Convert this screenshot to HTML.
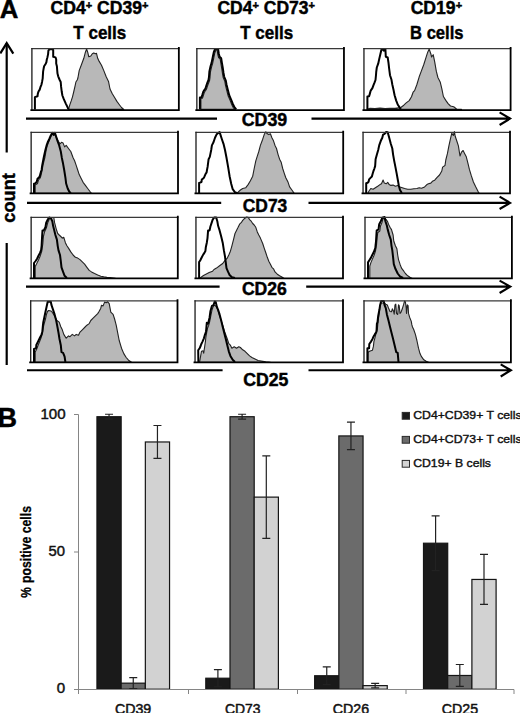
<!DOCTYPE html>
<html><head><meta charset="utf-8">
<style>
html,body{margin:0;padding:0;background:#fff;}
svg{display:block;}
text{font-family:"Liberation Sans",sans-serif;}
.b{font-weight:bold;stroke:#000;stroke-width:0.45px;}
</style></head>
<body>
<svg width="520" height="713" viewBox="0 0 520 713">
<!-- PANEL A -->
<text class="b" x="-0.2" y="18.2" font-size="26" textLength="18.6" lengthAdjust="spacingAndGlyphs">A</text>
<g class="b" text-anchor="middle" fill="#000">
<text x="99.5" y="13.8" font-size="17.5" textLength="98" lengthAdjust="spacingAndGlyphs">CD4<tspan font-size="11" dy="-5">+</tspan><tspan dy="5"> CD39</tspan><tspan font-size="11" dy="-5">+</tspan></text>
<text x="99.8" y="38.7" font-size="19" textLength="53" lengthAdjust="spacingAndGlyphs">T cells</text>
<text x="266.2" y="13.8" font-size="17.5" textLength="97.5" lengthAdjust="spacingAndGlyphs">CD4<tspan font-size="11" dy="-5">+</tspan><tspan dy="5"> CD73</tspan><tspan font-size="11" dy="-5">+</tspan></text>
<text x="266.7" y="38.7" font-size="19" textLength="53" lengthAdjust="spacingAndGlyphs">T cells</text>
<text x="436.4" y="13.8" font-size="17.5" textLength="51.5" lengthAdjust="spacingAndGlyphs">CD19<tspan font-size="11" dy="-5">+</tspan></text>
<text x="436.8" y="38.7" font-size="19" textLength="53.5" lengthAdjust="spacingAndGlyphs">B cells</text>
</g>
<!-- count axis -->
<g stroke="#000" stroke-width="2.2" fill="none">
<line x1="6.7" y1="43" x2="6.7" y2="152.5"/>
<line x1="6.7" y1="243" x2="6.7" y2="365"/>
<polyline points="0.3,53.4 6.7,43.1 13.3,53.6" stroke-linejoin="miter"/>
</g>
<text class="b" font-size="18.8" transform="translate(15.3,197.9) rotate(-90)" text-anchor="middle" textLength="49.5" lengthAdjust="spacingAndGlyphs">count</text>

<!-- row arrows -->
<g class="b" font-size="17.5" text-anchor="middle">
<text x="264.5" y="126" textLength="45.5" lengthAdjust="spacingAndGlyphs">CD39</text>
<text x="265" y="211.7" textLength="44.5" lengthAdjust="spacingAndGlyphs">CD73</text>
<text x="264.4" y="294.5" textLength="45" lengthAdjust="spacingAndGlyphs">CD26</text>
<text x="265.8" y="386.3" textLength="45.2" lengthAdjust="spacingAndGlyphs">CD25</text>
</g>

<!-- histogram boxes -->
<g fill="#b8b8b8" stroke="#222" stroke-width="1.1" stroke-linejoin="round">
<polygon points="68.5,109.4 68.5,109.4 69.8,104.9 71.2,100.9 72.5,96.8 73.8,91.5 75.2,85.4 75.9,82.0 77.2,80.0 77.9,78.0 79.2,70.6 81.5,64.5 83.8,58.3 85.4,52.2 86.6,49.0 87.7,52.2 88.8,56.8 90.8,56.0 92.3,53.7 93.8,52.9 95.4,53.7 96.5,53.4 97.7,58.3 99.2,61.4 101.5,65.2 103.8,70.6 106.2,76.8 108.5,81.4 110.0,89.0 112.3,93.7 114.6,97.5 116.9,101.4 119.2,104.5 121.5,107.5 123.8,109.4 123.8,109.4"/>
<polygon points="200.9,109.4 200.9,109.4 200.9,98.3 202.5,98.1 203.5,95.2 204.2,92.8 204.9,91.4 206.4,89.5 207.3,86.6 208.3,83.7 209.5,80.8 210.0,77.6 210.4,72.2 211.6,66.8 212.6,63.7 213.7,58.3 214.8,53.0 216.0,49.9 217.1,49.9 217.8,54.5 218.6,57.6 220.2,59.1 220.9,63.7 221.7,68.3 222.5,73.7 223.2,77.6 224.8,81.4 225.5,85.3 226.6,89.9 228.2,96.0 230.2,100.6 231.7,104.5 233.2,107.6 235.2,109.4 235.2,109.4"/>
<polygon points="367.0,109.4 367.0,109.2 370.0,108.3 375.0,108.6 380.0,108.0 385.0,108.5 390.0,108.2 395.0,108.4 400.8,107.5 403.8,105.2 406.2,102.9 409.2,100.6 411.5,96.8 413.1,92.2 414.6,90.6 416.9,84.5 419.2,76.8 421.5,70.6 423.8,64.5 426.2,56.8 427.7,52.2 429.2,49.1 430.8,53.7 431.6,57.0 433.2,54.7 434.7,61.8 436.3,71.2 437.9,77.5 440.3,82.3 441.8,88.6 443.4,96.5 445.8,100.4 448.1,103.6 450.5,106.0 453.7,106.7 456.8,109.1 461.5,109.2 461.5,109.4"/>
<polygon points="35.2,193.3 35.2,193.3 35.2,185.0 37.5,183.5 38.5,180.0 40.2,178.0 41.2,174.5 42.2,170.0 43.0,165.0 44.2,160.0 45.0,157.0 46.0,151.0 47.0,146.5 48.2,143.0 49.5,140.0 51.0,136.5 52.3,134.0 53.8,135.5 54.9,134.0 56.2,136.9 58.5,141.5 60.0,143.8 61.5,142.3 63.1,143.1 64.6,146.9 66.2,145.4 68.5,148.5 70.8,151.5 73.1,157.7 74.6,160.8 76.2,165.4 77.7,170.0 79.2,174.6 80.8,177.7 83.1,182.3 85.4,185.4 87.7,188.5 90.0,191.5 91.5,193.3 91.5,193.3"/>
<polygon points="235.0,193.3 235.0,193.2 237.3,192.8 240.4,190.0 242.7,188.5 245.8,187.7 248.1,184.6 250.4,180.8 252.7,176.2 254.2,168.5 255.8,160.8 257.3,156.2 258.8,151.5 260.4,145.4 262.7,139.2 264.2,134.6 265.8,131.8 267.3,133.8 268.8,134.6 270.4,133.8 271.9,137.7 273.5,140.8 275.0,145.4 276.5,148.5 278.1,154.6 279.6,159.2 281.2,162.3 282.7,168.5 284.2,173.1 285.8,177.7 288.1,182.3 289.6,186.9 291.9,190.0 294.2,193.2 294.2,193.3"/>
<polygon points="367.7,193.3 367.7,193.2 369.2,190.8 370.8,188.5 373.1,189.2 375.4,187.7 377.7,186.2 380.0,184.6 381.5,183.8 383.1,180.0 384.3,183.1 386.2,183.8 387.7,182.3 389.2,184.6 390.8,185.4 393.1,185.1 395.4,186.2 397.7,185.4 400.0,186.9 402.3,187.7 404.6,188.5 407.7,189.2 410.8,189.2 413.8,188.8 416.9,188.5 419.2,187.7 421.5,188.2 424.6,186.9 426.9,184.6 428.5,183.8 430.8,183.1 432.4,181.3 434.7,180.2 437.1,177.3 439.5,175.0 441.8,171.0 442.6,167.1 445.0,165.5 445.8,160.0 447.4,153.7 448.9,145.8 450.5,138.7 451.8,133.2 453.3,135.5 454.4,131.6 455.2,136.3 456.8,141.0 458.4,145.8 460.0,156.0 461.5,152.1 463.1,150.5 464.7,153.7 466.3,156.8 467.9,163.1 469.4,169.4 471.3,175.7 473.4,182.0 475.7,186.8 478.1,191.5 479.2,193.2 479.2,193.3"/>
<polygon points="35.2,278.4 35.2,278.4 35.2,266.5 36.5,264.0 38.5,260.0 40.2,256.0 41.8,251.0 42.8,244.0 43.5,236.0 44.5,232.0 46.3,228.0 47.8,222.5 49.3,219.0 51.5,217.5 53.8,217.5 54.6,222.7 56.2,228.8 57.7,233.5 59.2,235.0 60.8,236.5 62.3,238.1 63.8,237.3 65.4,242.7 66.9,245.8 68.5,248.1 70.8,251.9 73.1,255.0 75.4,257.3 77.7,258.1 80.0,259.6 82.3,261.9 84.6,264.2 86.9,267.3 89.2,270.4 91.5,271.9 94.6,273.5 97.7,275.0 100.8,276.2 103.8,276.8 106.9,277.3 110.0,277.6 115.4,278.4 115.4,278.4"/>
<polygon points="200.1,278.4 200.1,278.4 200.1,277.9 203.5,275.5 209.2,272.6 212.6,271.2 214.0,269.5 216.5,268.1 219.6,265.8 222.7,263.5 225.0,260.4 227.3,258.1 228.8,255.0 230.4,251.2 231.9,245.8 233.5,239.6 235.0,233.5 236.5,230.4 238.1,227.3 239.6,224.2 241.2,222.7 242.7,220.4 244.2,218.8 246.5,217.0 248.1,217.3 249.6,219.6 251.2,221.2 252.7,223.5 254.2,225.0 255.8,227.3 257.3,231.9 258.8,235.0 260.4,238.1 262.7,243.5 264.2,248.1 265.8,252.7 267.3,257.3 268.8,261.2 270.4,264.2 271.9,267.3 273.5,268.8 275.0,271.9 277.3,274.2 279.6,275.8 281.9,277.0 284.2,278.4 284.2,278.4"/>
<polygon points="369.8,278.4 369.8,278.4 369.8,266.0 371.0,262.4 372.4,259.1 374.0,255.5 375.5,251.0 376.5,245.0 377.2,237.0 377.8,232.5 379.8,231.0 380.5,226.0 381.8,223.0 383.1,218.5 384.6,218.0 386.2,219.6 387.7,221.9 388.5,224.2 390.0,227.3 391.5,229.6 393.1,235.0 393.8,241.2 395.4,245.8 396.9,248.8 397.7,255.0 398.5,259.6 400.0,264.2 401.5,268.1 403.8,271.2 405.4,273.5 407.7,275.8 410.0,277.3 412.3,278.4 412.3,278.4"/>
<polygon points="35.2,362.3 35.2,362.3 35.2,352.0 36.5,349.5 38.0,345.5 40.9,338.3 42.3,333.5 43.2,328.0 44.2,323.5 45.5,319.0 46.6,314.0 47.5,311.5 48.5,310.5 50.0,310.8 51.5,311.3 53.0,313.5 54.6,315.9 56.9,320.5 59.2,322.1 60.8,326.7 62.3,329.8 63.8,334.4 66.2,338.2 68.5,335.9 70.0,336.7 72.3,334.4 74.6,335.9 76.2,334.4 78.5,335.2 80.0,332.1 82.3,329.8 84.6,327.5 86.9,325.2 89.2,323.6 90.8,320.5 93.1,318.2 95.4,315.9 97.7,313.6 99.2,311.3 100.8,308.2 101.5,305.2 103.1,305.9 104.6,302.1 106.2,302.8 107.7,301.8 109.2,303.6 110.8,312.1 113.1,314.4 114.6,319.0 116.2,325.2 117.7,332.8 119.2,340.5 121.5,348.2 123.8,353.6 126.2,357.5 128.5,360.2 131.5,362.3 131.5,362.3"/>
<polygon points="199.6,362.3 199.6,362.3 199.6,361.8 201.5,351.2 203.0,350.8 203.7,353.2 205.4,341.6 205.9,336.8 206.8,332.0 207.6,328.0 208.6,325.5 209.8,321.0 210.8,316.0 212.0,310.0 213.0,307.0 214.2,305.2 215.8,306.0 217.5,309.0 219.6,315.9 222.7,325.2 225.0,332.8 227.3,339.0 228.8,343.6 230.4,345.2 231.9,348.2 234.2,346.7 236.5,348.2 238.8,346.7 240.4,347.5 242.7,349.8 245.0,351.3 247.3,353.6 249.6,355.9 251.9,357.5 255.0,359.0 258.1,360.5 261.2,361.0 265.8,361.8 270.4,362.3 270.4,362.3"/>
<polygon points="368.1,362.3 368.1,362.3 368.1,352.2 369.5,351.2 372.4,350.3 373.4,346.4 373.9,341.6 374.8,338.3 375.8,334.4 377.3,329.8 378.1,321.0 379.2,313.0 380.0,306.0 381.0,303.0 384.0,303.0 385.8,304.2 387.3,304.9 388.5,308.0 390.0,311.5 391.5,311.8 392.3,308.8 393.5,311.0 394.2,314.2 395.0,304.9 395.8,304.2 396.5,313.4 397.7,314.5 398.5,304.9 399.2,305.7 400.0,313.4 401.2,311.8 402.3,308.8 403.5,304.9 404.6,301.0 405.4,301.8 406.2,308.0 406.5,313.4 407.3,304.9 408.1,305.7 408.5,313.4 409.6,317.2 411.2,321.1 411.9,324.9 412.5,327.0 413.8,329.8 415.4,334.4 416.9,340.5 418.5,348.2 420.0,353.6 421.5,356.7 423.8,359.8 426.2,361.3 428.5,362.3 428.5,362.3"/>
</g>
<g fill="none" stroke="#000" stroke-width="2.0" stroke-linejoin="round">
<polyline points="34.9,109.4 34.9,97.1 37.5,96.3 37.8,93.9 38.5,91.5 39.7,89.6 40.4,87.2 41.4,84.8 42.1,81.7 42.7,78.3 43.1,71.6 43.7,68.2 44.1,66.2 45.4,64.2 46.4,62.2 46.8,59.5 47.4,57.4 48.1,54.1 48.4,50.7 49.5,49.2 52.2,49.0 53.2,50.0 53.2,56.8 55.5,57.4 56.2,59.5 56.2,63.5 56.9,66.2 57.2,70.2 57.5,73.6 58.2,76.3 59.7,80.0 60.7,82.0 61.1,86.7 61.7,91.5 62.4,95.5 63.7,98.9 65.8,103.6 67.4,106.9 68.5,109.4"/>
<polyline points="199.9,109.4 199.9,97.5 201.5,97.3 202.5,94.4 203.2,92.0 203.9,90.6 205.4,88.7 206.3,85.8 207.3,82.9 208.5,80.0 209.0,76.8 209.4,71.4 210.6,66.0 211.6,62.9 212.7,57.5 213.8,52.2 215.0,49.1 218.1,49.1 218.8,53.7 219.6,56.8 221.2,58.3 221.9,62.9 222.7,67.5 223.5,72.9 224.2,76.8 225.8,80.6 226.5,84.5 227.6,89.1 229.2,95.2 231.2,99.8 232.7,103.7 234.2,106.8 236.2,109.4"/>
<polyline points="367.4,109.4 367.4,96.6 369.1,96.3 369.8,93.9 370.7,90.6 372.4,88.2 373.4,85.3 374.6,82.4 375.5,80.0 376.0,75.0 376.2,72.2 376.8,67.5 378.2,63.7 379.2,59.1 380.3,54.5 381.4,49.8 382.5,49.0 383.8,50.6 385.4,49.0 385.8,56.8 387.7,57.5 388.5,62.9 389.2,69.0 390.0,75.2 391.5,79.8 392.3,84.5 393.5,89.8 394.6,95.2 396.2,100.6 397.7,104.5 399.2,106.8 400.8,109.4"/>
<polyline points="34.0,193.3 34.0,183.7 35.1,183.5 36.6,182.0 37.1,180.6 37.5,178.7 39.2,177.2 39.9,175.8 40.4,173.8 40.9,171.9 41.6,170.0 42.2,165.4 43.4,159.2 44.0,156.2 45.4,150.0 46.6,145.4 47.7,142.3 49.2,139.2 50.8,135.4 52.3,132.8 53.8,134.6 54.9,132.8 56.2,136.9 57.7,141.5 59.2,145.4 60.8,151.5 61.8,157.7 63.1,163.8 64.2,170.0 65.4,177.7 66.2,183.8 67.7,188.5 69.2,191.5 70.8,193.3"/>
<polyline points="199.1,193.3 199.1,183.0 199.9,182.7 201.5,182.0 201.8,179.6 203.5,178.2 204.4,176.7 205.4,174.3 206.6,172.4 207.0,170.0 207.6,166.9 208.6,159.2 209.8,156.9 211.2,150.0 211.9,145.4 213.5,142.3 215.0,137.7 216.5,134.6 218.1,133.1 219.6,132.0 220.4,134.6 221.9,139.2 223.5,143.8 225.0,150.0 226.5,157.7 228.1,166.9 229.6,176.2 231.2,183.8 232.7,189.2 235.0,192.3 237.3,193.1"/>
<polyline points="366.2,193.3 366.2,183.2 367.6,182.8 368.6,181.8 369.1,179.4 370.5,177.9 371.9,176.5 372.7,173.6 373.4,171.2 374.3,168.8 375.1,166.4 375.3,164.0 375.6,159.2 376.9,154.6 378.2,150.0 379.2,145.4 380.8,140.8 382.3,137.7 383.1,134.6 384.6,133.8 386.2,132.0 387.7,132.3 389.2,137.7 390.8,143.8 392.3,148.5 393.1,154.6 394.2,160.8 395.4,166.9 396.6,173.1 397.7,179.2 398.8,185.4 400.0,190.0 401.8,193.1"/>
<polyline points="34.0,278.4 34.0,263.0 35.6,261.0 37.1,258.7 38.5,255.8 40.0,252.9 41.1,250.0 41.6,245.8 42.0,238.1 42.5,230.4 43.8,230.4 45.4,227.3 46.2,222.7 47.7,219.6 49.2,217.5 50.8,218.1 52.3,221.2 53.1,225.8 54.3,230.4 55.4,235.0 56.9,239.6 57.7,245.8 58.5,250.4 60.0,255.0 60.8,261.2 61.5,267.3 63.1,271.9 64.6,275.8 66.9,278.0"/>
<polyline points="199.1,278.4 199.1,262.0 200.3,260.3 201.8,257.2 203.2,254.6 204.4,252.9 205.4,251.0 205.8,247.3 206.8,242.7 207.5,238.1 208.1,230.4 209.6,230.4 210.4,226.5 211.2,224.2 212.7,219.6 214.2,217.5 216.2,217.5 217.3,221.2 218.1,225.8 219.6,230.4 221.2,236.5 222.7,242.7 223.9,250.4 225.0,256.5 225.8,262.7 226.5,268.1 228.1,271.9 229.6,275.0 231.9,277.3 235.0,278.0"/>
<polyline points="368.0,278.4 368.0,262.4 369.5,260.0 371.0,257.6 372.4,254.7 373.9,251.8 374.8,249.4 375.3,248.0 375.6,245.0 375.9,242.7 376.4,235.0 376.7,230.4 378.5,229.6 379.2,224.2 380.8,221.2 382.3,217.8 384.6,217.0 385.4,221.2 386.9,225.8 387.7,229.6 389.2,235.0 390.8,239.6 391.5,245.8 392.3,250.4 393.1,257.3 393.8,264.2 395.4,268.8 397.7,273.5 400.0,276.5 403.1,278.0"/>
<polyline points="34.0,362.3 34.0,349.0 36.1,348.3 36.3,345.0 38.0,341.6 39.9,337.8 41.4,334.9 42.3,332.0 42.8,326.7 43.3,322.1 44.3,317.5 45.6,311.3 46.6,306.7 47.7,301.8 50.8,301.8 51.5,305.2 53.1,309.8 54.6,314.4 56.2,320.5 57.4,326.7 58.5,332.8 59.5,339.0 60.8,345.2 61.5,352.1 63.1,352.8 64.6,356.7 65.4,362.0"/>
<polyline points="198.4,362.3 198.2,350.3 199.6,348.3 200.8,345.5 201.1,344.5 202.5,341.6 203.9,338.3 204.9,334.9 205.9,332.0 206.2,329.8 206.8,322.8 208.1,323.6 209.6,317.5 210.4,311.3 211.9,305.9 213.5,305.2 214.7,301.5 215.8,302.1 216.8,306.7 218.1,309.8 219.6,314.4 221.2,320.5 222.7,326.7 224.2,332.8 225.8,339.0 227.3,345.2 228.8,351.3 230.4,355.9 232.7,359.8 235.0,362.0"/>
<polyline points="367.4,362.3 367.4,348.3 369.1,348.3 369.3,344.0 371.0,341.6 372.4,339.2 373.4,336.8 374.8,334.4 376.3,332.0 376.6,329.8 376.9,323.6 377.5,322.1 378.2,315.9 379.4,309.8 380.1,305.2 381.2,301.0 383.8,301.0 384.6,305.2 385.8,308.2 386.9,314.4 388.5,320.5 390.0,326.7 391.5,332.8 393.1,339.0 394.6,345.2 396.2,352.1 397.7,352.8 398.5,362.0"/>
</g>

<g fill="none" stroke-linejoin="miter" stroke-linecap="square">
<path d="M31.90 48.60H178.85" stroke="#383838" stroke-width="1.15"/>
<path d="M31.90 110.20V48.60" stroke="#222" stroke-width="1.35"/>
<path d="M31.30 110.20H178.85V48.00" stroke="#000" stroke-width="1.8"/>
<path d="M196.85 48.60H343.95" stroke="#383838" stroke-width="1.15"/>
<path d="M196.85 110.20V48.60" stroke="#222" stroke-width="1.35"/>
<path d="M196.25 110.20H343.95V48.00" stroke="#000" stroke-width="1.8"/>
<path d="M363.95 48.60H510.60" stroke="#383838" stroke-width="1.15"/>
<path d="M363.95 110.20V48.60" stroke="#222" stroke-width="1.35"/>
<path d="M363.35 110.20H510.60V48.00" stroke="#000" stroke-width="1.8"/>
<path d="M31.15 132.30H178.00" stroke="#383838" stroke-width="1.15"/>
<path d="M31.15 193.30V132.30" stroke="#222" stroke-width="1.35"/>
<path d="M30.55 193.30H178.00V131.70" stroke="#000" stroke-width="1.8"/>
<path d="M196.00 132.30H343.20" stroke="#383838" stroke-width="1.15"/>
<path d="M196.00 193.30V132.30" stroke="#222" stroke-width="1.35"/>
<path d="M195.40 193.30H343.20V131.70" stroke="#000" stroke-width="1.8"/>
<path d="M363.05 132.30H510.00" stroke="#383838" stroke-width="1.15"/>
<path d="M363.05 193.30V132.30" stroke="#222" stroke-width="1.35"/>
<path d="M362.45 193.30H510.00V131.70" stroke="#000" stroke-width="1.8"/>
<path d="M31.15 217.30H177.80" stroke="#383838" stroke-width="1.15"/>
<path d="M31.15 278.40V217.30" stroke="#222" stroke-width="1.35"/>
<path d="M30.55 278.40H177.80V216.70" stroke="#000" stroke-width="1.8"/>
<path d="M195.95 217.30H343.00" stroke="#383838" stroke-width="1.15"/>
<path d="M195.95 278.40V217.30" stroke="#222" stroke-width="1.35"/>
<path d="M195.35 278.40H343.00V216.70" stroke="#000" stroke-width="1.8"/>
<path d="M365.00 217.30H511.90" stroke="#383838" stroke-width="1.15"/>
<path d="M365.00 278.40V217.30" stroke="#222" stroke-width="1.35"/>
<path d="M364.40 278.40H511.90V216.70" stroke="#000" stroke-width="1.8"/>
<path d="M30.70 300.80H177.50" stroke="#383838" stroke-width="1.15"/>
<path d="M30.70 362.30V300.80" stroke="#222" stroke-width="1.35"/>
<path d="M30.10 362.30H177.50V300.20" stroke="#000" stroke-width="1.8"/>
<path d="M195.05 300.80H343.00" stroke="#383838" stroke-width="1.15"/>
<path d="M195.05 362.30V300.80" stroke="#222" stroke-width="1.35"/>
<path d="M194.45 362.30H343.00V300.20" stroke="#000" stroke-width="1.8"/>
<path d="M364.00 300.80H510.90" stroke="#383838" stroke-width="1.15"/>
<path d="M364.00 362.30V300.80" stroke="#222" stroke-width="1.35"/>
<path d="M363.40 362.30H510.90V300.20" stroke="#000" stroke-width="1.8"/>
</g>
<path fill="none" stroke="#000" stroke-width="2.1" stroke-linejoin="miter" d="M26 118.6H217M311.5 118.6H509.29999999999995M499.6 112.3L510.1 118.6L499.6 125 M27 202.9H221.2M308.5 202.9H509.29999999999995M499.6 196.7L510.1 202.9L499.6 209 M26 286.6H219.6M306.2 286.6H509.5M499.6 280.7L510.3 286.6L499.6 293 M27 370.2H222.6M308.5 370.2H510.1M500.7 364.4L510.9 370.2L500.7 376.5"/>


<!-- PANEL B -->
<text class="b" x="-2.6" y="426.7" font-size="27">B</text>
<g font-size="14.9" text-anchor="end" fill="#111" stroke="#111" stroke-width="0.45">
<text x="65.6" y="419" textLength="25.2" lengthAdjust="spacingAndGlyphs">100</text>
<text x="64.9" y="555.8" textLength="16.5" lengthAdjust="spacingAndGlyphs">50</text>
<text x="65.2" y="692.8" textLength="8.4" lengthAdjust="spacingAndGlyphs">0</text>
</g>
<text class="b" font-size="15" transform="translate(30.9,597.8) rotate(-90)" textLength="10.6" lengthAdjust="spacingAndGlyphs" style="stroke-width:0.3px">%</text>
<text class="b" font-size="14.2" transform="translate(30.9,583) rotate(-90)" textLength="77" lengthAdjust="spacingAndGlyphs" style="stroke-width:0.3px">positive cells</text>
<g stroke="#151515" stroke-width="1.2">
<rect x="96.95" y="416.72" width="24.20" height="272.48" fill="#1a1a1a"/>
<rect x="121.15" y="683.16" width="24.20" height="6.04" fill="#6b6b6b"/>
<rect x="145.35" y="441.97" width="24.20" height="247.23" fill="#d2d2d2"/>
<rect x="205.80" y="678.22" width="24.20" height="10.98" fill="#1a1a1a"/>
<rect x="230.00" y="416.72" width="24.20" height="272.48" fill="#6b6b6b"/>
<rect x="254.20" y="497.12" width="24.20" height="192.08" fill="#d2d2d2"/>
<rect x="314.65" y="675.75" width="24.20" height="13.45" fill="#1a1a1a"/>
<rect x="338.85" y="435.93" width="24.20" height="253.27" fill="#6b6b6b"/>
<rect x="363.05" y="685.63" width="24.20" height="3.57" fill="#d2d2d2"/>
<rect x="423.50" y="543.22" width="24.20" height="145.98" fill="#1a1a1a"/>
<rect x="447.70" y="675.48" width="24.20" height="13.72" fill="#6b6b6b"/>
<rect x="471.90" y="579.44" width="24.20" height="109.76" fill="#d2d2d2"/>
</g>
<path fill="none" stroke="#222" stroke-width="1.2" d="M109.05 414.25V419.19M105.05 414.25H113.05M105.05 419.19H113.05 M133.25 677.68V688.65M129.25 677.68H137.25M129.25 688.65H137.25 M157.45 425.50V458.43M153.45 425.50H161.45M153.45 458.43H161.45 M217.90 669.72V686.73M213.90 669.72H221.90M213.90 686.73H221.90 M242.10 414.25V419.19M238.10 414.25H246.10M238.10 419.19H246.10 M266.30 455.96V538.28M262.30 455.96H270.30M262.30 538.28H270.30 M326.75 666.97V684.54M322.75 666.97H330.75M322.75 684.54H330.75 M350.95 422.21V449.65M346.95 422.21H354.95M346.95 449.65H354.95 M375.15 683.44V687.83M371.15 683.44H379.15M371.15 687.83H379.15 M435.60 515.78V570.66M431.60 515.78H439.60M431.60 570.66H439.60 M459.80 664.50V686.46M455.80 664.50H463.80M455.80 686.46H463.80 M484.00 554.47V604.41M480.00 554.47H488.00M480.00 604.41H488.00"/>

<g stroke="#858585" stroke-width="1" fill="none">
<line x1="78.5" y1="414.5" x2="78.5" y2="694"/>
<line x1="74" y1="414.5" x2="78.5" y2="414.5"/>
<line x1="74" y1="552" x2="78.5" y2="552"/>
<line x1="74" y1="689.5" x2="514" y2="689.5"/>
<line x1="188.5" y1="689.5" x2="188.5" y2="694"/>
<line x1="297.5" y1="689.5" x2="297.5" y2="694"/>
<line x1="406" y1="689.5" x2="406" y2="694"/>
<line x1="514" y1="689.5" x2="514" y2="694"/>
</g>
<g font-size="14.5" text-anchor="middle" fill="#111" stroke="#111" stroke-width="0.5">
<text x="133.1" y="713.6" textLength="36.3" lengthAdjust="spacingAndGlyphs">CD39</text>
<text x="242.7" y="713.6" textLength="35.6" lengthAdjust="spacingAndGlyphs">CD73</text>
<text x="351" y="713.6" textLength="36.3" lengthAdjust="spacingAndGlyphs">CD26</text>
<text x="459.9" y="713.6" textLength="36.3" lengthAdjust="spacingAndGlyphs">CD25</text>
</g>
<!-- legend -->
<g stroke="#2a2a2a" stroke-width="1">
<rect x="402.2" y="412.4" width="7.3" height="6.8" fill="#1a1a1a"/>
<rect x="402.2" y="436.4" width="7.3" height="6.8" fill="#6b6b6b"/>
<rect x="402.2" y="460.4" width="7.3" height="6.8" fill="#d4d4d4"/>
</g>
<g font-size="11.4" fill="#111" stroke="#111" stroke-width="0.4">
<text x="413.2" y="418.9" textLength="108.5" lengthAdjust="spacingAndGlyphs">CD4+CD39+ T cells</text>
<text x="413.2" y="442.9" textLength="108.5" lengthAdjust="spacingAndGlyphs">CD4+CD73+ T cells</text>
<text x="413.2" y="466.9" textLength="77.8" lengthAdjust="spacingAndGlyphs">CD19+ B cells</text>
</g>
</svg>
</body></html>
